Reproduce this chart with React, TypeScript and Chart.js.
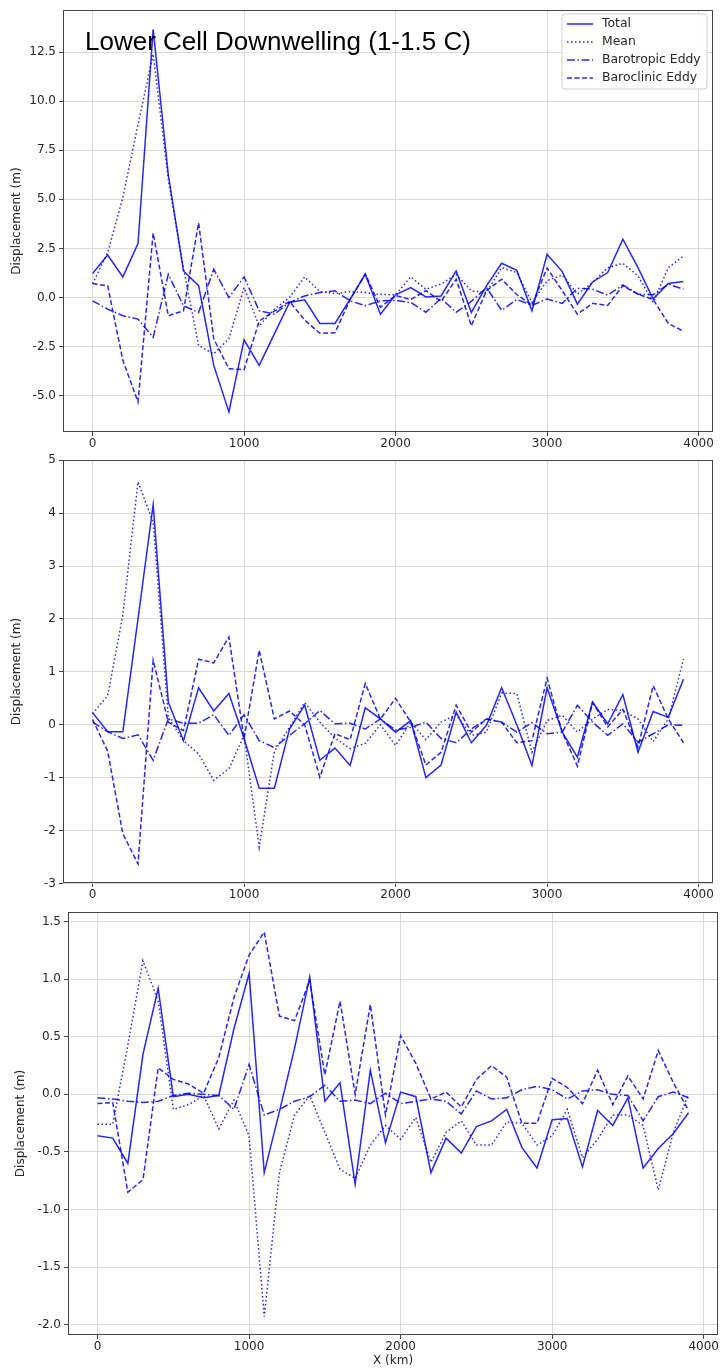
import React, { useEffect, useRef } from "react";
import { Chart, registerables } from "chart.js";
Chart.register(...registerables);

// ---------- data ----------
const xKm = [
  0, 100, 200, 300, 400, 500, 600, 700, 800, 900,
  1000, 1100, 1200, 1300, 1400, 1500, 1600, 1700, 1800, 1900,
  2000, 2100, 2200, 2300, 2400, 2500, 2600, 2700, 2800, 2900,
  3000, 3100, 3200, 3300, 3400, 3500, 3600, 3700, 3800, 3900,
];
const xTicks = [0, 1000, 2000, 3000, 4000];
const seriesNames = ["Total", "Mean", "Barotropic Eddy", "Baroclinic Eddy"];

// Panel 1: Lower Cell Downwelling (1-1.5 C)
const p1Total = [
  1.22, 2.16, 1.05, 2.74, 13.65, 6.25, 1.35, 0.6, -3.46, -5.83,
  -2.16, -3.46, -1.85, -0.25, -0.12, -1.32, -1.32, -0.08, 1.18, -0.85,
  0.14, 0.5, 0.03, 0.08, 1.35, -0.76, 0.59, 1.74, 1.39, -0.68,
  2.2, 1.32, -0.34, 0.79, 1.27, 2.97, 1.52, -0.08, 0.71, 0.81,
];
const p1Mean = [
  0.7, 2.28, 5.1, 8.8, 12.4, 6.0, 1.5, -2.45, -2.87, -2.1,
  0.5, -1.44, -0.6, 0.0, 1.05, 0.3, 0.2, 0.3, 0.25, 0.15,
  0.14, 1.05, 0.42, 0.68, 1.18, 0.34, 0.25, 1.52, 1.27, -0.25,
  0.85, 1.15, 0.17, 0.76, 1.52, 1.74, 1.1, -0.25, 1.52, 2.11,
];
const p1Barotropic = [
  -0.17, -0.59, -0.93, -1.1, -2.03, 1.18, -0.42, -0.76, 1.44, 0.0,
  1.05, -0.68, -0.85, -0.25, 0.08, 0.25, 0.34, -0.17, -0.42, -0.17,
  -0.15, -0.25, -0.75, -0.05, -0.75, -0.2, 0.5, -0.65, -0.1, -0.4,
  -0.08, -0.3, 0.47, 0.42, 0.12, 0.64, 0.17, 0.14, 0.68, 0.42,
];
const p1Baroclinic = [
  0.71, 0.59, -3.2, -5.32, 3.29, -0.93, -0.68, 3.8, -2.11, -3.63,
  -3.68, -1.2, -0.7, -0.2, -1.15, -1.82, -1.8, -0.1, 1.2, -0.5,
  0.1, -0.1, 0.35, -0.2, 0.93, -1.44, 0.35, 0.93, 0.15, -0.4,
  1.5, 0.34, -0.85, -0.3, -0.4, 0.6, 0.17, -0.1, -1.32, -1.72,
];
const p1YTicks = [-5, -2.5, 0, 2.5, 5, 7.5, 10, 12.5];

// Panel 2: Lower Cell Upwelling (2-2.5 C)
const p2Total = [
  0.23, -0.13, -0.13, 2.0, 4.16, 0.43, -0.3, 0.7, 0.26, 0.59,
  -0.26, -1.2, -1.2, -0.08, 0.37, -0.67, -0.44, -0.77, 0.32, 0.11,
  -0.14, 0.08, -1.0, -0.76, 0.24, -0.34, -0.01, 0.7, 0.0, -0.77,
  0.7, -0.14, -0.61, 0.43, 0.02, 0.57, -0.52, 0.25, 0.14, 0.86,
];
const p2Mean = [
  0.21, 0.55, 2.07, 4.59, 3.83, 0.14, -0.3, -0.55, -1.05, -0.83,
  -0.2, -2.31, -0.5, -0.05, 0.42, 0.05, -0.25, -0.45, -0.35, 0.0,
  -0.39, 0.05, -0.28, 0.05, 0.19, -0.2, -0.14, 0.6, 0.59, -0.52,
  0.08, 0.18, -0.14, 0.11, 0.29, 0.27, 0.11, -0.32, 0.11, 1.24,
];
const p2Barotropic = [
  0.05, -0.13, -0.26, -0.19, -0.67, 0.11, 0.03, 0.03, 0.19, -0.2,
  0.19, -0.3, -0.43, -0.2, 0.02, 0.27, 0.02, 0.03, -0.08, 0.11,
  -0.1, -0.05, 0.05, -0.26, -0.34, -0.08, 0.11, 0.05, -0.14, 0.04,
  -0.17, -0.14, 0.37, 0.05, -0.2, 0.02, -0.33, -0.17, 0.0, -0.01,
];
const p2Baroclinic = [
  0.1, -0.5, -2.06, -2.63, 1.22, 0.05, -0.11, 1.24, 1.17, 1.66,
  -0.26, 1.41, 0.11, 0.26, 0.0, -0.99, -0.17, -0.28, 0.78, 0.11,
  0.5, 0.05, -0.76, -0.52, 0.37, -0.14, 0.11, 0.05, -0.34, -0.3,
  0.88, -0.14, -0.78, 0.42, -0.04, 0.29, -0.42, 0.74, 0.11, -0.34,
];
const p2YTicks = [-3, -2, -1, 0, 1, 2, 3, 4, 5];

// Panel 3: Upper Cell Upwelling (3.5-4 C)
const p3Total = [
  -0.36, -0.38, -0.6, 0.35, 0.92, -0.02, 0.0, -0.03, -0.01, 0.57,
  1.05, -0.68, -0.15, 0.4, 1.02, -0.06, 0.1, -0.78, 0.21, -0.42,
  0.02, -0.02, -0.68, -0.38, -0.51, -0.28, -0.23, -0.13, -0.46, -0.64,
  -0.22, -0.21, -0.63, -0.14, -0.27, -0.03, -0.64, -0.47, -0.34, -0.16,
];
const p3Mean = [
  -0.26, -0.26, 0.43, 1.16, 0.81, -0.13, -0.09, -0.01, -0.3, -0.05,
  -0.36, -1.93, -0.68, -0.18, -0.01, -0.33, -0.65, -0.73, -0.44, -0.27,
  -0.39, -0.2, -0.59, -0.33, -0.23, -0.44, -0.44, -0.24, -0.25, -0.44,
  -0.36, -0.13, -0.55, -0.39, -0.18, -0.18, -0.27, -0.83, -0.33, 0.0,
];
const p3Barotropic = [
  -0.03, -0.04, -0.06, -0.07, -0.06, -0.01, 0.01, 0.0, -0.01, -0.13,
  0.26, -0.18, -0.13, -0.06, -0.02, 0.08, -0.06, -0.05, -0.08, 0.01,
  -0.08, -0.06, -0.04, -0.06, -0.17, 0.03, -0.04, -0.03, 0.04, 0.07,
  0.04, -0.04, 0.03, 0.04, 0.0, -0.01, -0.23, -0.02, 0.02, -0.03,
];
const p3Baroclinic = [
  -0.08, -0.07, -0.85, -0.74, 0.23, 0.13, 0.09, 0.01, 0.32, 0.84,
  1.21, 1.41, 0.68, 0.64, 0.99, 0.17, 0.81, 0.0, 0.78, -0.18,
  0.51, 0.27, -0.04, 0.02, -0.11, 0.13, 0.25, 0.15, -0.25, -0.25,
  0.14, 0.06, -0.08, 0.21, -0.09, 0.16, -0.04, 0.38, 0.1, -0.14,
];
const p3YTicks = [-2, -1.5, -1, -0.5, 0, 0.5, 1, 1.5];

// ---------- styles ----------
const BLUE = "rgba(0,0,255,0.85)";
const DASHES: number[][] = [[], [1.5, 2.5], [8, 2.5, 1.5, 2.5], [5, 2.5]];
const TICK_FONT = { family: "'DejaVu Sans', sans-serif", size: 12 };
const TEXT_COLOR = "#262626";

type PanelProps = {
  top: number;
  height: number;
  padding: { top: number; right: number; left: number; bottom: number };
  yWidth: number;
  xHeight: number;
  yMin: number;
  yMax: number;
  yTicks: number[];
  yDecimals: number;
  yTitlePad: number;
  series: number[][];
  title: string;
  titleX: number;
  titleY: number;
  legend?: boolean;
  xTitle?: boolean;
};

function Panel(p: PanelProps) {
  const ref = useRef<HTMLCanvasElement>(null);
  useEffect(() => {
    const canvas = ref.current!;
    const decor = {
      id: "decor",
      beforeDraw(chart: any) {
        const ctx = chart.ctx;
        ctx.save();
        ctx.fillStyle = "#ffffff";
        ctx.fillRect(0, 0, chart.width, chart.height);
        ctx.restore();
      },
      afterDraw(chart: any) {
        const ctx = chart.ctx as CanvasRenderingContext2D;
        const a = chart.chartArea;
        ctx.save();
        ctx.strokeStyle = "#444";
        ctx.lineWidth = 1;
        ctx.setLineDash([]);
        ctx.strokeRect(
          Math.round(a.left) + 0.5,
          Math.round(a.top) + 0.5,
          Math.round(a.right - a.left) - 1,
          Math.round(a.bottom - a.top) - 1
        );
        ctx.fillStyle = "#000";
        ctx.font = "26px 'Liberation Sans', Arial, sans-serif";
        ctx.textBaseline = "alphabetic";
        ctx.textAlign = "left";
        ctx.fillText(p.title, p.titleX, p.titleY);
        if (p.legend) {
          const bx = 562, by = 14, bw = 145, bh = 75, r = 3;
          ctx.beginPath();
          ctx.moveTo(bx + r, by);
          ctx.lineTo(bx + bw - r, by);
          ctx.quadraticCurveTo(bx + bw, by, bx + bw, by + r);
          ctx.lineTo(bx + bw, by + bh - r);
          ctx.quadraticCurveTo(bx + bw, by + bh, bx + bw - r, by + bh);
          ctx.lineTo(bx + r, by + bh);
          ctx.quadraticCurveTo(bx, by + bh, bx, by + bh - r);
          ctx.lineTo(bx, by + r);
          ctx.quadraticCurveTo(bx, by, bx + r, by);
          ctx.closePath();
          ctx.fillStyle = "rgba(255,255,255,0.85)";
          ctx.fill();
          ctx.strokeStyle = "#d0d0d0";
          ctx.lineWidth = 1;
          ctx.stroke();
          const ys = [24, 42, 60, 78];
          ctx.font = "12.4px 'DejaVu Sans', sans-serif";
          ctx.textBaseline = "middle";
          seriesNames.forEach((name, i) => {
            ctx.beginPath();
            ctx.setLineDash(DASHES[i]);
            ctx.strokeStyle = BLUE;
            ctx.lineWidth = 1.5;
            ctx.moveTo(567, ys[i]);
            ctx.lineTo(593, ys[i]);
            ctx.stroke();
            ctx.setLineDash([]);
            ctx.fillStyle = TEXT_COLOR;
            ctx.fillText(name, 602, ys[i]);
          });
        }
        ctx.restore();
      },
    };

    const chart = new Chart(canvas, {
      type: "line",
      data: {
        datasets: p.series.map((s, i) => ({
          label: seriesNames[i],
          data: xKm.map((x, j) => ({ x, y: s[j] })),
          borderColor: BLUE,
          borderWidth: 1.5,
          borderDash: DASHES[i],
          pointRadius: 0,
          fill: false,
          tension: 0,
        })),
      },
      options: {
        responsive: false,
        animation: false,
        devicePixelRatio: 1,
        layout: { padding: p.padding },
        plugins: {
          legend: { display: false },
          tooltip: { enabled: false },
          title: { display: false },
        },
        scales: {
          x: {
            type: "linear",
            min: -195,
            max: 4095,
            afterBuildTicks: (s: any) => {
              s.ticks = xTicks.map((v) => ({ value: v }));
            },
            afterFit: (s: any) => {
              s.height = p.xHeight;
            },
            grid: { color: "#d9d9d9", lineWidth: 1, tickLength: 4, tickColor: "#444" },
            border: { display: false },
            ticks: {
              font: TICK_FONT,
              color: TEXT_COLOR,
              padding: 1,
              maxRotation: 0,
              autoSkip: false,
              callback: (v: any) => String(v),
            },
            title: p.xTitle
              ? { display: true, text: "X (km)", font: TICK_FONT, color: TEXT_COLOR, padding: { top: 0, bottom: 2 } }
              : { display: false },
          },
          y: {
            type: "linear",
            min: p.yMin,
            max: p.yMax,
            afterBuildTicks: (s: any) => {
              s.ticks = p.yTicks.map((v) => ({ value: v }));
            },
            afterFit: (s: any) => {
              s.width = p.yWidth;
            },
            grid: { color: "#d9d9d9", lineWidth: 1, tickLength: 4, tickColor: "#444" },
            border: { display: false },
            ticks: {
              font: TICK_FONT,
              color: TEXT_COLOR,
              padding: 3,
              autoSkip: false,
              callback: (v: any) => Number(v).toFixed(p.yDecimals),
            },
            title: {
              display: true,
              text: "Displacement (m)",
              font: TICK_FONT,
              color: TEXT_COLOR,
              padding: { top: p.yTitlePad, bottom: 0 },
            },
          },
        },
      },
      plugins: [decor],
    } as any);
    return () => chart.destroy();
  }, []);
  return (
    <canvas
      ref={ref}
      width={720}
      height={p.height}
      style={{ position: "absolute", left: 0, top: p.top, width: 720, height: p.height }}
    />
  );
}

export default function App() {
  return (
    <div style={{ position: "absolute", left: 0, top: 0, width: 720, height: 1370, background: "#fff" }}>
      <Panel
        top={0}
        height={450}
        padding={{ top: 8, right: 7, left: 0, bottom: 0 }}
        yWidth={63}
        xHeight={18}
        yMin={-6.85}
        yMax={14.63}
        yTicks={p1YTicks}
        yDecimals={1}
        yTitlePad={10}
        series={[p1Total, p1Mean, p1Barotropic, p1Baroclinic]}
        title="Lower Cell Downwelling (1-1.5 C)"
        titleX={85}
        titleY={50}
        legend
      />
      <Panel
        top={450}
        height={450}
        padding={{ top: 10, right: 7, left: 0, bottom: 0 }}
        yWidth={63}
        xHeight={17}
        yMin={-2.99}
        yMax={5}
        yTicks={p2YTicks}
        yDecimals={0}
        yTitlePad={10}
        series={[p2Total, p2Mean, p2Barotropic, p2Baroclinic]}
        title="Lower Cell Upwelling (2-2.5 C)"
        titleX={85}
        titleY={487}
        
      />
      <Panel
        top={900}
        height={470}
        padding={{ top: 12, right: 1, left: 0, bottom: 0 }}
        yWidth={68}
        xHeight={35}
        yMin={-2.09}
        yMax={1.584}
        yTicks={p3YTicks}
        yDecimals={1}
        yTitlePad={14}
        series={[p3Total, p3Mean, p3Barotropic, p3Baroclinic]}
        title="Upper Cell Upwelling (3.5-4 C)"
        titleX={86}
        titleY={938}
        xTitle
      />
    </div>
  );
}
